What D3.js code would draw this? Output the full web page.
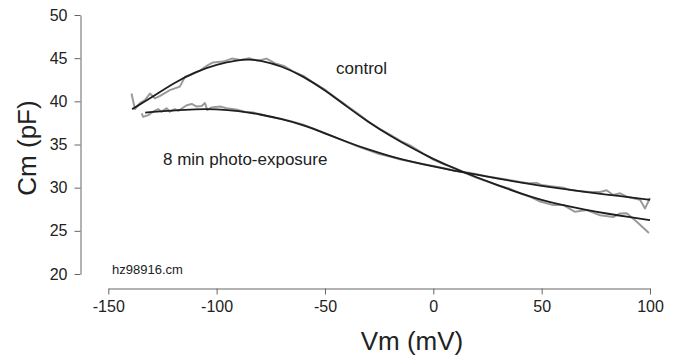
<!DOCTYPE html>
<html>
<head>
<meta charset="utf-8">
<script src="https://cdn.jsdelivr.net/npm/d3@7"></script>
<style>
  body { margin: 0; background: #fff; }
  svg text { font-family: "Liberation Sans", Arial, sans-serif; fill: #222; }
</style>
</head>
<body>
<div id="chart"></div>
<script>
// --- tick labels ---
const xTicks = [-150, -100, -50, 0, 50, 100];
const yTicks = [20, 25, 30, 35, 40, 45, 50];

// --- raw traces (gray) ---
const controlV = [-139.3, -137.7, -135.4, -133.1, -130.8, -128.5, -126.3, -121.6, -117, -114.6, -112.3, -107.7,
  -104, -101.7, -97, -93, -89, -85, -81, -77, -73, -69, -65, -60, -55, -50, -45, -40, -35, -30, -25, -20,
  -15, -10, -5, 0, 5, 10, 15, 20, 25, 30, 35, 40, 45, 49.3, 55.3, 59.9, 65.4, 70.8, 77, 83, 86, 89.3, 93.9, 99.5];
const controlC = [40.9, 39.1, 39.8, 40.15, 40.9, 40.35, 40.6, 41.3, 41.7, 42.85, 43.05, 43.55,
  44.2, 44.5, 44.6, 44.95, 44.8, 45.0, 44.7, 44.95, 44.4, 44.1, 43.5, 42.95, 42.1, 41.35, 40.4, 39.5, 38.6, 37.65, 36.85, 36.15,
  35.4, 34.8, 34.0, 33.25, 32.7, 32.25, 31.65, 31.15, 30.7, 30.25, 29.9, 29.35, 28.9, 28.4, 28.0, 28.0, 27.2, 27.4, 26.8, 26.6, 27.0, 27.05, 26.05, 24.75];

const photoV = [-134.6, -133.9, -131.6, -129.3, -127, -125.4, -123.1, -121.6, -119.3, -117.7, -113.8, -111.5,
  -109.2, -106.9, -105.4, -104.3, -102.3, -98.5, -95.4, -91, -87, -83, -79, -75, -70, -65, -60, -55, -50,
  -45, -40, -35, -30, -25, -20, -15, -10, -5, 0, 5, 10, 15, 20, 25, 30, 35, 40, 44, 47.7, 50, 55, 60, 63,
  67, 72, 77, 80, 83, 86.2, 89.3, 95.4, 97.7, 100];
const photoC = [38.6, 38.2, 38.4, 38.8, 39.1, 38.8, 39.2, 38.8, 39.1, 38.9, 39.55, 39.7,
  39.4, 39.45, 39.8, 39.0, 39.3, 39.4, 39.2, 39.05, 38.8, 38.7, 38.45, 38.2, 37.95, 37.65, 37.3, 36.8, 36.3,
  35.8, 35.3, 34.8, 34.35, 33.9, 33.6, 33.25, 33.0, 32.75, 32.5, 32.25, 31.95, 31.8, 31.55, 31.3, 31.1, 30.9, 30.65, 30.5, 30.55, 30.3, 30.15, 30.0, 29.75,
  29.6, 29.5, 29.5, 29.7, 29.15, 29.35, 28.95, 28.6, 27.6, 28.8];

// --- fitted curves (black) ---
const controlFitV = [-139, -130, -120, -110, -100, -90, -85, -80, -70, -60, -50, -40, -30, -20, -10, 0, 10, 20, 30, 40, 50, 60, 70, 80, 90, 100];
const controlFitC = [39.1, 40.45, 42.1, 43.4, 44.3, 44.8, 44.85, 44.75, 44.1, 42.9, 41.3, 39.4, 37.6, 36.0, 34.6, 33.3, 32.2, 31.2, 30.25, 29.35, 28.55, 27.95, 27.45, 27.0, 26.6, 26.25];
const photoFitV = [-133, -120, -110, -100, -90, -80, -70, -60, -50, -40, -30, -20, -10, 0, 10, 20, 30, 40, 50, 60, 70, 80, 90, 100];
const photoFitC = [38.7, 38.95, 39.1, 39.1, 38.9, 38.5, 37.95, 37.25, 36.3, 35.3, 34.4, 33.65, 33.0, 32.45, 31.95, 31.5, 31.05, 30.6, 30.2, 29.85, 29.5, 29.2, 28.9, 28.6];

const width = 678, height = 361;

const svg = d3.select("#chart").append("svg")
  .attr("width", width)
  .attr("height", height);

const x = d3.scaleLinear().domain([-150, 100]).range([108.3, 650]);
const y = d3.scaleLinear().domain([20, 50]).range([274, 15]);

const zip = (vs, cs) => vs.map((v, i) => [v, cs[i]]);

const line = d3.line()
  .x(d => x(d[0]))
  .y(d => y(d[1]));

const smooth = d3.line()
  .curve(d3.curveBasis)
  .x(d => x(d[0]))
  .y(d => y(d[1]));

// raw traces
[zip(controlV, controlC), zip(photoV, photoC)].forEach(pts => {
  svg.append("path")
    .datum(pts)
    .attr("fill", "none")
    .attr("stroke", "#9a9a9a")
    .attr("stroke-width", 2)
    .attr("stroke-linejoin", "round")
    .attr("d", line);
});

// fits
[zip(controlFitV, controlFitC), zip(photoFitV, photoFitC)].forEach(pts => {
  svg.append("path")
    .datum(pts)
    .attr("fill", "none")
    .attr("stroke", "#1e1e1e")
    .attr("stroke-width", 1.8)
    .attr("d", smooth);
});

// axes
const xAxis = svg.append("g")
  .attr("transform", "translate(0,288.5)")
  .call(d3.axisBottom(x).tickValues(xTicks).tickSize(6).tickSizeOuter(0).tickPadding(6).tickFormat(d => String(d)));

const yAxis = svg.append("g")
  .attr("transform", "translate(80.5,0)")
  .call(d3.axisLeft(y).tickValues(yTicks).tickSize(6).tickSizeOuter(0).tickPadding(7).tickFormat(d => String(d)));

[xAxis, yAxis].forEach(g => {
  g.selectAll("path, line").attr("stroke", "#666");
  g.selectAll("text").attr("font-size", 16).attr("fill", "#333")
    .attr("font-family", "Liberation Sans, Arial, sans-serif");
});

// axis titles
svg.append("text")
  .attr("x", 412).attr("y", 350)
  .attr("text-anchor", "middle")
  .attr("font-size", 26)
  .text("Vm (mV)");

svg.append("text")
  .attr("transform", "translate(36,148) rotate(-90)")
  .attr("text-anchor", "middle")
  .attr("font-size", 26)
  .text("Cm (pF)");

// annotations
svg.append("text").attr("x", 336).attr("y", 74).attr("font-size", 17).text("control");
svg.append("text").attr("x", 163).attr("y", 165).attr("font-size", 17).text("8 min photo-exposure");
svg.append("text").attr("x", 112).attr("y", 274).attr("font-size", 13).text("hz98916.cm");
</script>
</body>
</html>
